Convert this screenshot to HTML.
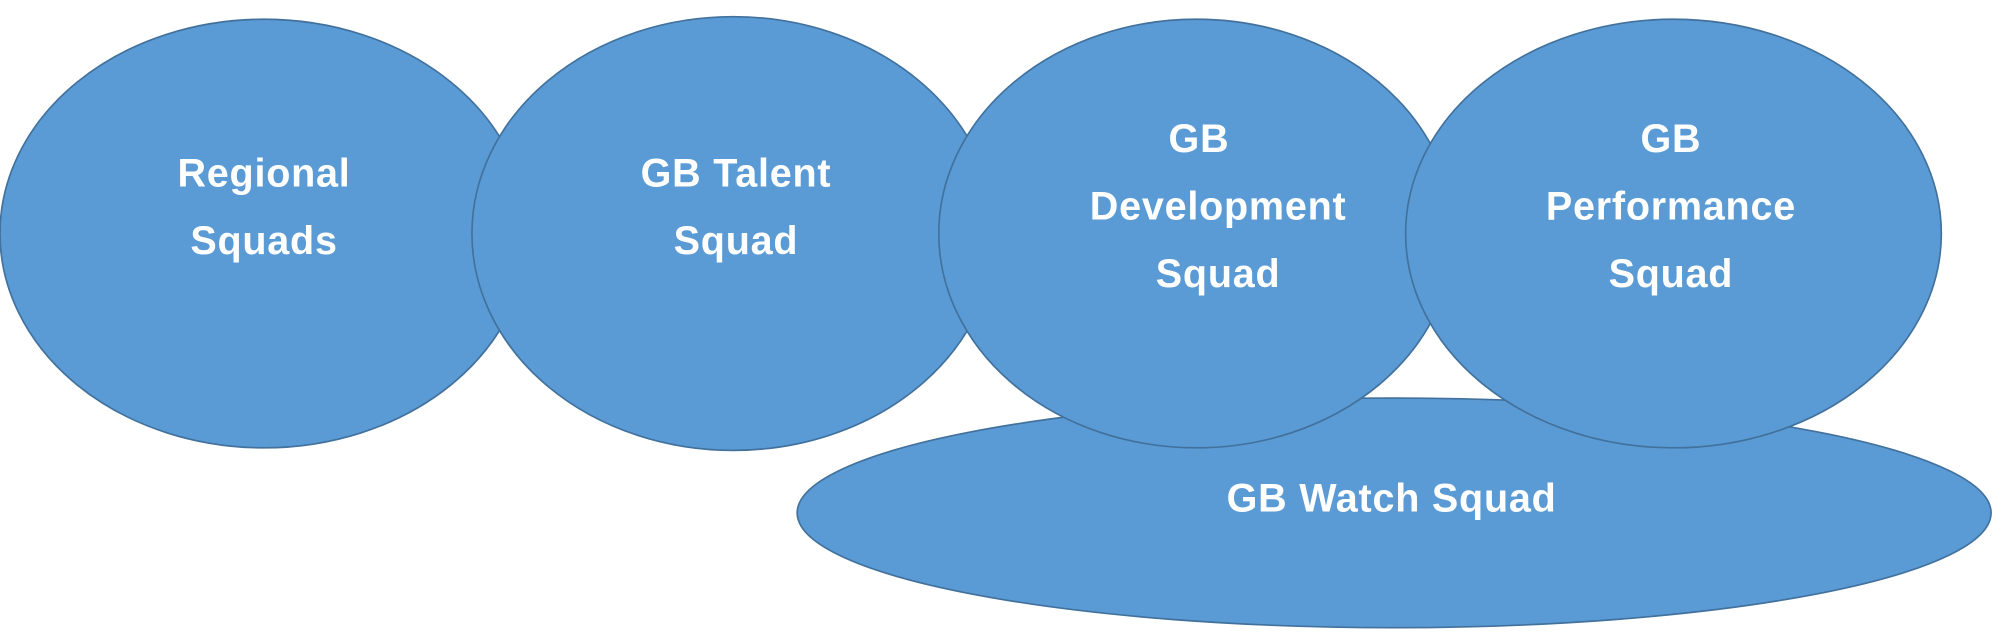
<!DOCTYPE html>
<html><head><meta charset="utf-8"><style>
html,body{margin:0;padding:0;background:#fff;width:2000px;height:638px;overflow:hidden}
svg{display:block}
text{font-family:"Liberation Sans",sans-serif;font-weight:bold;fill:#fff;font-size:31px;letter-spacing:0.6px;text-anchor:middle}
</style></head><body>
<svg width="2000" height="638" viewBox="0 0 1568 500" xmlns="http://www.w3.org/2000/svg">
<g fill="#5b9bd5" stroke="#41719c" stroke-width="1.3">
<ellipse cx="1093" cy="402" rx="468" ry="90"/>
<ellipse cx="207" cy="183" rx="207" ry="168"/>
<ellipse cx="575" cy="183" rx="205" ry="170"/>
<ellipse cx="938" cy="183" rx="202" ry="168"/>
<ellipse cx="1312" cy="183" rx="210" ry="168"/>
</g>
<text x="207" y="146">Regional</text>
<text x="207" y="199">Squads</text>
<text x="577" y="146">GB Talent</text>
<text x="577" y="199">Squad</text>
<text x="940" y="119">GB</text>
<text x="955" y="172">Development</text>
<text x="955" y="225">Squad</text>
<text x="1310" y="119">GB</text>
<text x="1310" y="172">Performance</text>
<text x="1310" y="225">Squad</text>
<text x="1091" y="401">GB Watch Squad</text>
</svg>
</body></html>
